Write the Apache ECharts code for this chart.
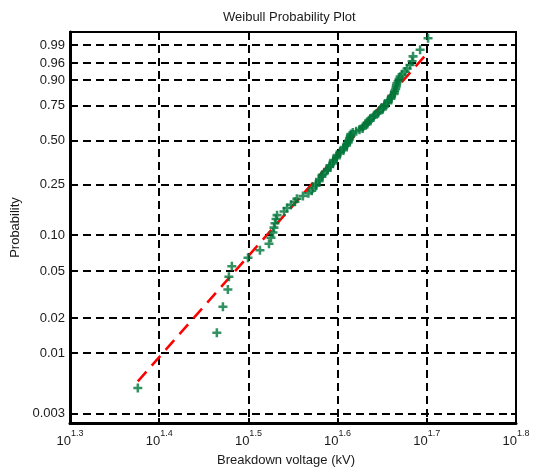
<!DOCTYPE html>
<html><head><meta charset="utf-8">
<script src="https://cdn.jsdelivr.net/npm/echarts@6/dist/echarts.min.js"></script>
<style>html,body{margin:0;padding:0;background:#fff}#c{width:535px;height:469px}</style>
</head><body><div id="c"></div>
<script>
// Breakdown voltages (kV), one per plotted point
const breakdownKV = [
  23.77, 29.15, 29.61, 29.99, 30.07, 30.30, 31.59, 32.58, 33.35, 33.52,
  33.70, 33.78, 33.87, 33.96, 34.05, 34.67, 34.94, 35.29, 35.66, 35.84,
  36.40, 36.92, 37.24, 37.36, 37.66, 37.67, 37.96, 37.99, 38.23, 38.26,
  38.49, 38.76, 38.78, 39.00, 39.03, 39.32, 39.37, 39.39, 39.68, 39.73,
  39.76, 40.03, 40.07, 40.42, 40.44, 40.49, 40.74, 40.76, 40.90, 40.94,
  41.02, 41.07, 41.12, 41.16, 41.20, 41.41, 41.77, 42.12, 42.46, 42.49,
  42.62, 42.97, 42.99, 43.13, 43.16, 43.31, 43.67, 43.70, 43.83, 44.19,
  44.22, 44.36, 44.73, 44.77, 44.91, 44.94, 45.33, 45.35, 45.38, 45.68,
  45.73, 45.77, 46.06, 46.09, 46.13, 46.25, 46.30, 46.34, 46.39, 46.54,
  46.66, 46.78, 47.02, 47.38, 47.63, 48.00, 48.25, 48.37, 49.26, 50.28
];
const yTickProbs  = [0.003, 0.01, 0.02, 0.05, 0.10, 0.25, 0.50, 0.75, 0.90, 0.96, 0.99];
const yTickLabels = ['0.003','0.01','0.02','0.05','0.10','0.25','0.50','0.75','0.90','0.96','0.99'];
const xTickExponents = ['1.3','1.4','1.5','1.6','1.7','1.8'];
const yLimitProbs = [0.0025, 0.9975];
// Weibull reference line parameters (shape, scale in kV)
const fitShape = 8.74;
const fitScale = 42.9;

function weib(p) { return Math.log(-Math.log(1 - p)); }
const sorted = breakdownKV.slice().sort((a, b) => a - b);
const n = sorted.length;
const points = sorted.map((v, i) => [Math.log10(v), weib((i + 0.5) / n)]);
const fitEnds = [sorted[0], sorted[n - 1]];
const fitLine = fitEnds.map(v => [Math.log10(v), fitShape * Math.log(v / fitScale)]);
const yTickVals = yTickProbs.map(weib);
const xMin = parseFloat(xTickExponents[0]), xMax = parseFloat(xTickExponents[xTickExponents.length - 1]);

function yLabel(v) {
  let best = 0, bd = Infinity;
  yTickVals.forEach((t, i) => { const d = Math.abs(t - v); if (d < bd) { bd = d; best = i; } });
  return yTickLabels[best];
}
const FONT = 'Liberation Sans, Arial, sans-serif';
const TXT = '#1a1a1a';
const dash = [8, 5];
const plusPath = 'path://M3.6,0H6.4V3.6H10V6.4H6.4V10H3.6V6.4H0V3.6H3.6Z';

const chart = echarts.init(document.getElementById('c'), null, { renderer: 'canvas' });
chart.setOption({
  animation: false,
  backgroundColor: '#fff',
  title: {
    text: 'Weibull Probability Plot', left: 218, top: 6,
    textStyle: { fontSize: 13, fontWeight: 'normal', color: TXT, fontFamily: FONT }
  },
  grid: { left: 70, right: 19, top: 32, bottom: 46, outerBoundsMode: 'none', containLabel: false,
          show: true, borderColor: '#000', borderWidth: 2, backgroundColor: 'transparent' },
  xAxis: [{
    type: 'value', min: xMin, max: xMax, interval: 0.1,
    name: 'Breakdown voltage (kV)', nameLocation: 'middle', nameGap: 31,
    nameTextStyle: { fontSize: 13, color: TXT, fontFamily: FONT, padding: [0, 14, 0, 0] },
    axisLine: { show: true, onZero: false, lineStyle: { color: '#000', width: 3 } },
    axisTick: { show: true, inside: true, length: 5, lineStyle: { color: '#000', width: 2 } },
    axisLabel: {
      margin: 6, fontFamily: FONT,
      formatter: v => '{b|10}{s|' + v.toFixed(1) + '}',
      rich: {
        b: { fontSize: 13, color: TXT, fontFamily: FONT, lineHeight: 19, verticalAlign: 'bottom' },
        s: { fontSize: 9, color: TXT, fontFamily: FONT, lineHeight: 13, verticalAlign: 'top' }
      }
    },
    splitLine: { show: true, lineStyle: { color: '#000', width: 2, type: dash } }
  }, {
    type: 'value', min: xMin, max: xMax, interval: 0.1, position: 'top',
    axisLine: { show: true, onZero: false, lineStyle: { color: '#000', width: 2 } },
    axisTick: { show: true, inside: true, length: 5, lineStyle: { color: '#000', width: 2 } },
    axisLabel: { show: false }, splitLine: { show: false }
  }],
  yAxis: [{
    type: 'value', min: weib(yLimitProbs[0]), max: weib(yLimitProbs[1]),
    name: 'Probability', nameLocation: 'middle', nameGap: 41,
    nameTextStyle: { fontSize: 13, color: TXT, fontFamily: FONT },
    axisLine: { show: true, onZero: false, lineStyle: { color: '#000', width: 3 } },
    axisTick: { show: true, inside: true, length: 5, customValues: yTickVals, lineStyle: { color: '#000', width: 2 } },
    axisLabel: { customValues: yTickVals, formatter: v => yLabel(v), fontSize: 13, color: TXT, fontFamily: FONT, margin: 5 },
    splitLine: { show: true, lineStyle: { color: '#000', width: 2, type: dash } }
  }, {
    type: 'value', min: weib(yLimitProbs[0]), max: weib(yLimitProbs[1]), position: 'right',
    axisLine: { show: true, onZero: false, lineStyle: { color: '#000', width: 2 } },
    axisTick: { show: true, inside: true, length: 5, customValues: yTickVals, lineStyle: { color: '#000', width: 2 } },
    axisLabel: { show: false }, splitLine: { show: false }
  }],
  series: [{
    type: 'line', data: fitLine, symbol: 'none', z: 3,
    lineStyle: { color: '#ff0000', width: 2.5, type: [13, 8] }
  }, {
    type: 'scatter', data: points, symbol: plusPath, symbolSize: 9, z: 4,
    itemStyle: { color: '#00773a' }
  }]
});
</script></body></html>
